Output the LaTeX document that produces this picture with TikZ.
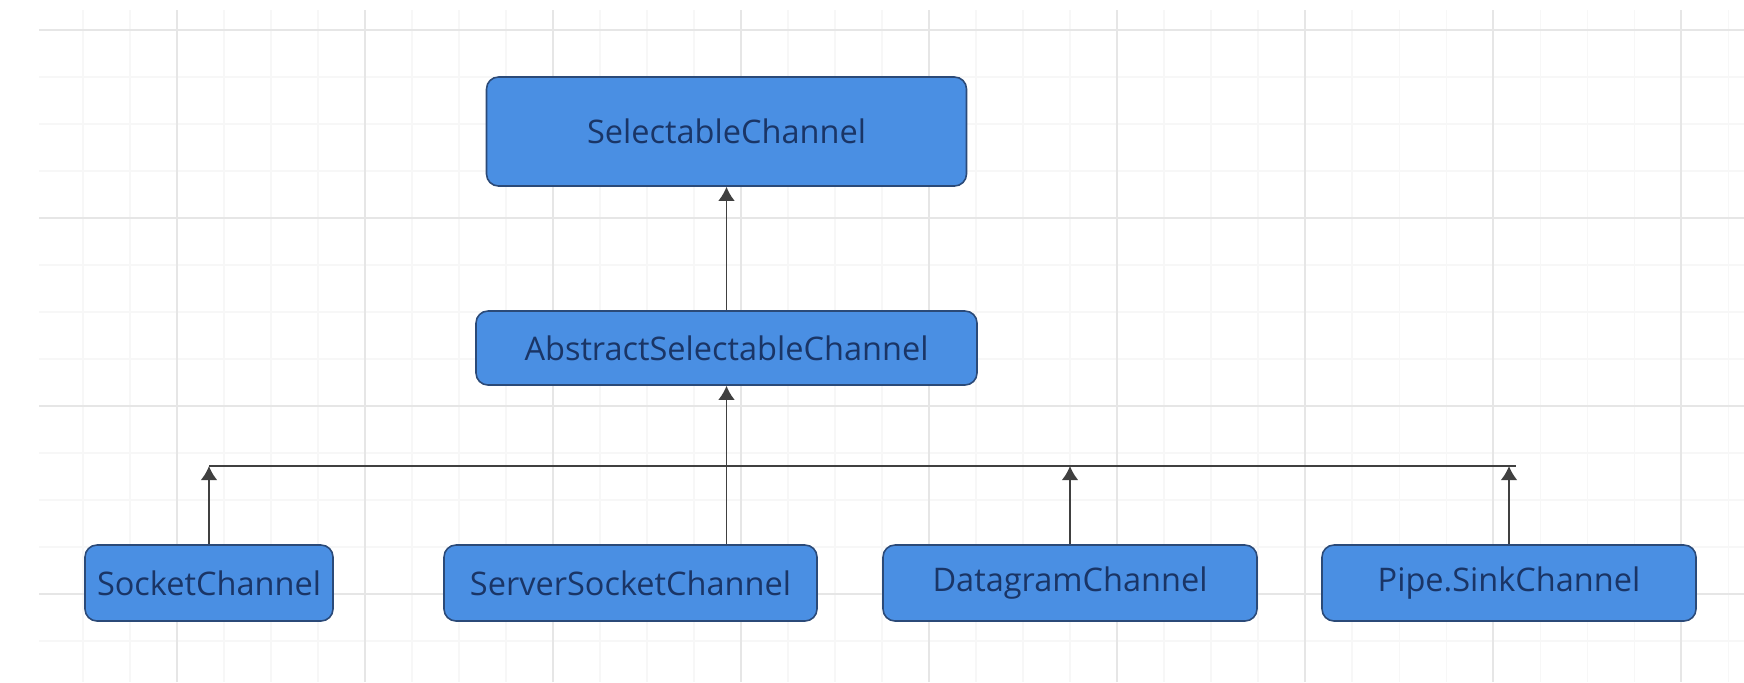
\documentclass[tikz,border=0pt]{standalone}
\usepackage{fontspec}
\setmainfont{Open Sans}
\usepackage{xcolor}
\usepackage{tikz}
\usetikzlibrary{arrows.meta}
\usetikzlibrary{positioning}

\definecolor{boxblue}{HTML}{4A8FE3}
\definecolor{boxedge}{HTML}{2B4A78}
\definecolor{boxtext}{HTML}{1A3566}
\definecolor{linegray}{HTML}{404040}
\definecolor{gridmajor}{HTML}{E6E6E6}
\definecolor{gridminor}{HTML}{F7F7F7}

\tikzset{
  cls/.style={rectangle, rounded corners=0.24cm, draw=boxedge, line width=0.9pt,
    fill=boxblue, text=boxtext, font=\fontsize{18.5}{20}\selectfont, inner sep=0pt},
  inherit/.style={-{Latex[length=8pt,width=9.5pt]}, draw=linegray, line width=1.1pt},
  bus/.style={draw=linegray, line width=1.1pt},
}

\begin{document}
\begin{tikzpicture}
\useasboundingbox (0,0) rectangle (34.88,-13.64);
\fill [white] (0,0) rectangle (34.88,-13.64);
% background grid
\begin{scope}[shift={(0.72,-0.60)}]
\draw [gridminor, line width=0.6pt, step=0.94cm] (0.06,0.4) grid (34.16,-13.04);
\end{scope}
\begin{scope}[shift={(3.54,-0.60)}]
\draw [gridmajor, line width=1pt, step=3.76cm] (-2.76,0.4) grid (31.34,-13.04);
\end{scope}

\node [cls, minimum width=9.6cm, minimum height=2.18cm] (SC) at (14.53, -2.63) {SelectableChannel};
\node [cls, minimum width=10.02cm, minimum height=1.48cm] (ASC) at (14.53, -6.96) {AbstractSelectableChannel};
\node [cls, minimum width=4.96cm, minimum height=1.52cm] (Socket) at (4.18, -11.66) {SocketChannel};
\node [cls, minimum width=7.46cm, minimum height=1.52cm] (Server) at (12.61, -11.66) {ServerSocketChannel};
\node [cls, minimum width=7.48cm, minimum height=1.52cm] (Datagram) at (21.40, -11.66) {DatagramChannel};
\node [cls, minimum width=7.48cm, minimum height=1.52cm] (Pipe) at (30.18, -11.66) {Pipe.SinkChannel};
\coordinate (busR) at (30.32, -9.32);

\draw [inherit] (ASC) to (SC);
\draw [inherit] (ASC |- Server.north) to (ASC);
\draw [bus] (Socket |- busR) to (busR);
\draw [inherit] (Socket) to (Socket |- busR);
\draw [inherit] (Datagram) to (Datagram |- busR);
\draw [inherit] (Pipe) to (Pipe |- busR);
\end{tikzpicture}
\end{document}
